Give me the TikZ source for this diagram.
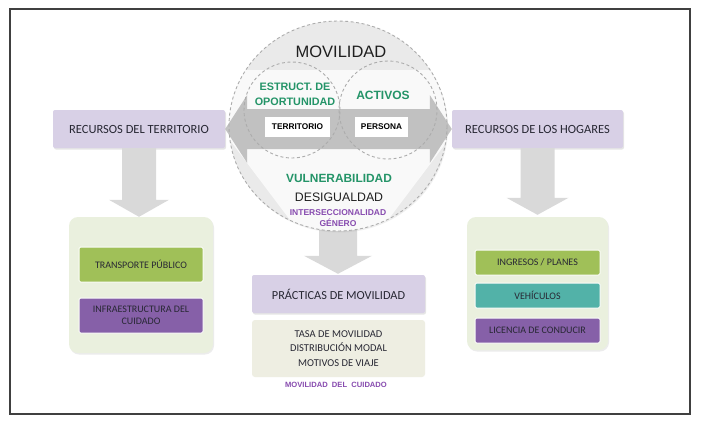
\documentclass[tikz,border=0pt]{standalone}
\usepackage{fontspec}
\setmainfont{Carlito}
\newfontfamily\arialf{Liberation Sans}
\usetikzlibrary{shapes.geometric,shadows,calc}
\definecolor{lpurple}{RGB}{216,208,230}
\definecolor{contgreen}{RGB}{234,240,222}
\definecolor{gbox}{RGB}{160,192,88}
\definecolor{tbox}{RGB}{82,178,168}
\definecolor{pbox}{RGB}{134,96,168}
\definecolor{beige}{RGB}{238,238,226}
\definecolor{txtdark}{RGB}{40,40,52}
\definecolor{gtxt}{RGB}{36,148,104}
\definecolor{ptxt}{RGB}{135,75,175}
\definecolor{agray}{RGB}{180,180,180}
\definecolor{dgray}{RGB}{217,217,217}
\definecolor{cgray}{RGB}{234,234,234}
\begin{document}
\begin{tikzpicture}[x=1pt,y=-1pt,
  rbox/.style={rectangle, rounded corners=2pt, fill=lpurple, minimum height=38pt,
    inner sep=0pt, font=\fontsize{12.5}{14}\selectfont, text=txtdark,
    drop shadow={opacity=0.2, shadow xshift=1pt, shadow yshift=-1.5pt}},
  contbox/.style={rectangle, rounded corners=9pt, fill=contgreen, inner sep=0pt,
    drop shadow={opacity=0.15, shadow xshift=1pt, shadow yshift=-1.5pt}},
  ibox/.style={rectangle, rounded corners=1.5pt, draw=white!85!contgreen, line width=1pt,
    inner sep=0pt, align=center, text=txtdark, font=\fontsize{10}{11.5}\selectfont},
  ctext/.style={font=\arialf\bfseries, align=center, inner sep=0pt},
  wbox/.style={rectangle, fill=white, inner sep=0pt, minimum height=20pt,
    font=\arialf\bfseries\fontsize{8.3}{10}\selectfont},
  dsh/.style={draw=gray!65, dash pattern=on 3pt off 2.5pt, line width=0.9pt}
]
\useasboundingbox (0,0) rectangle (709,447);
\fill[white] (0,0) rectangle (709,447);
\draw[line width=1.4pt, black!75] (10,9) rectangle (690,414);

% side boxes
\node[rbox, minimum width=172pt] (lt) at (139,129) {RECURSOS DEL TERRITORIO};
\node[rbox, minimum width=171pt] (rt) at (537.5,129) {RECURSOS DE LOS HOGARES};

% containers
\node[contbox, minimum width=144pt, minimum height=136pt] (lc) at (141,285) {};
\node[contbox, minimum width=141pt, minimum height=133pt] (rc) at (537.5,283.5) {};

\node[ibox, fill=gbox, minimum width=124pt, minimum height=35pt] (tp) at (141,264.5) {TRANSPORTE PÚBLICO};
\node[ibox, fill=pbox, minimum width=124pt, minimum height=35pt] (ic) at (141,315.5) {INFRAESTRUCTURA DEL\\CUIDADO};

\node[ibox, fill=gbox, minimum width=125pt, minimum height=25pt] (ip) at (537.5,262.5) {INGRESOS / PLANES};
\node[ibox, fill=tbox, minimum width=125pt, minimum height=25pt] (ve) at (537.5,295.5) {VEHÍCULOS};
\node[ibox, fill=pbox, minimum width=125pt, minimum height=25pt] (lcd) at (537.5,330.5) {LICENCIA DE CONDUCIR};

% central lower boxes
\node[rbox, minimum width=173pt, font=\fontsize{12.3}{14}\selectfont] (prac) at (338.5,294) {PRÁCTICAS DE MOVILIDAD};
\node[rectangle, rounded corners=3pt, fill=beige, minimum width=173pt, minimum height=57pt,
  inner sep=0pt, align=center, text=txtdark, font=\fontsize{10.5}{14.5}\selectfont] (stats) at (338.5,348.5)
  {TASA DE MOVILIDAD\\DISTRIBUCIÓN MODAL\\MOTIVOS DE VIAJE};
\node[ctext, text=ptxt, font=\arialf\bfseries\fontsize{7.6}{9}\selectfont] (mdc) at (336,385) {MOVILIDAD\ \ DEL\ \ CUIDADO};

% down arrows
\fill[dgray] ($(lt.south)+(-17,0)$) -- ($(lt.south |- lc.north)+(-17,-17)$) -- ++(-13,0)
  -- (lt.south |- lc.north) -- ++(30,-17) -- ++(-13,0) -- ($(lt.south)+(17,0)$) -- cycle;
\fill[dgray] ($(rt.south)+(-17,0)$) -- ($(rt.south |- rc.north)+(-17,-19)$) -- ++(-14,0)
  -- ($(rt.south |- rc.north)+(0,-2)$) -- ++(31,-17) -- ++(-14,0) -- ($(rt.south)+(17,0)$) -- cycle;

% circle
\coordinate (mc) at (338,126);
\fill[dgray] ($(mc)+(-19,90)$) -- ($(mc |- prac.north)+(-19,-19)$) -- ++(-15,0)
  -- ($(mc |- prac.north)+(0,-1)$) -- ++(34,-18) -- ++(-15,0) -- ($(mc)+(19,90)$) -- cycle;
\node[ellipse, fill=cgray, minimum width=218pt, minimum height=210pt, inner sep=0pt,
  drop shadow={opacity=0.12, shadow xshift=1pt, shadow yshift=-1.5pt}] (mov) at (mc) {};
\begin{scope}
  \clip (mc) ellipse [x radius=109, y radius=105];
  \fill[white, opacity=0.75] (177,70) -- (501,70) -- (339,285) -- cycle;
\end{scope}

% double arrow
\fill[agray, opacity=0.8] (lt.east) -- ++(22,-34) -- ++(0,14) -- ($(rt.west)+(-22,-20)$) -- ++(0,-14)
  -- (rt.west) -- ++(-22,34) -- ++(0,-14) -- ($(lt.east)+(22,20)$) -- ++(0,14) -- cycle;

\node[circle, dsh, minimum size=96pt, inner sep=0pt] (cl) at (292,110) {};
\node[circle, dsh, minimum size=98pt, inner sep=0pt] (cr) at (388,110) {};
\draw[dsh] (mc) ellipse [x radius=109, y radius=105];

\node[wbox, minimum width=65pt] (ter) at (297.5,127) {TERRITORIO};
\node[wbox, minimum width=53pt] (per) at (381.5,127) {PERSONA};

\node[font=\arialf\fontsize{16.5}{18}\selectfont, text=black!88, inner sep=0pt] (tmov) at (341,52) {MOVILIDAD};
\node[ctext, text=gtxt, font=\arialf\bfseries\fontsize{10.8}{15}\selectfont] (eo) at (295,94.5) {ESTRUCT. DE\\OPORTUNIDAD};
\node[ctext, text=gtxt, font=\arialf\bfseries\fontsize{12}{14}\selectfont] (act) at (383,95) {ACTIVOS};
\node[ctext, text=gtxt, font=\arialf\bfseries\fontsize{11.9}{14}\selectfont] (vul) at (339,178) {VULNERABILIDAD};
\node[ctext, text=black!88, font=\arialf\fontsize{12.3}{14}\selectfont] (des) at (339,197) {DESIGUALDAD};
\node[ctext, text=ptxt, font=\arialf\bfseries\fontsize{8.5}{11.5}\selectfont] (int) at (338,218) {INTERSECCIONALIDAD\\GÉNERO};
\end{tikzpicture}
\end{document}
